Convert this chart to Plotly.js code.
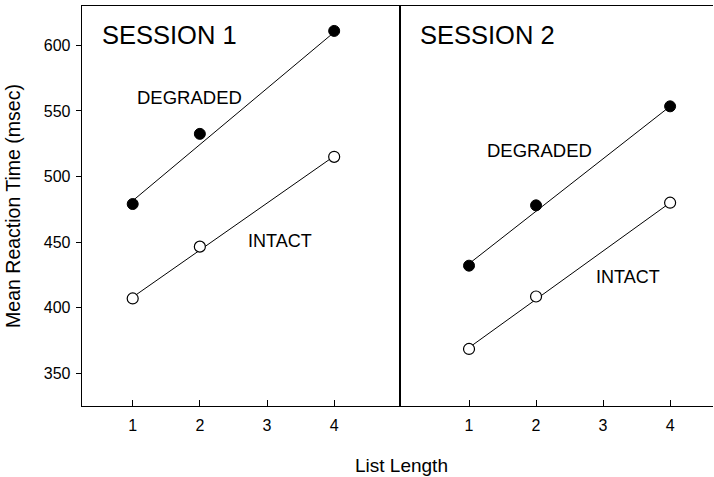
<!DOCTYPE html>
<html>
<head>
<meta charset="utf-8">
<script src="https://cdn.plot.ly/plotly-3.0.1.min.js"></script>
<style>html,body{margin:0;padding:0;background:#fff;}#chart{width:714px;height:477px;}</style>
</head>
<body>
<div id="chart"></div>
<script>
// Observed means (markers)
const listLength = [1, 2, 4];
const session1Degraded = [479, 532.5, 611];
const session1Intact = [407, 446.5, 515];
const session2Degraded = [432, 478, 553.5];
const session2Intact = [368.5, 408.5, 480];
// Fitted straight lines as drawn in the figure (read at list lengths 1 and 4)
const fitLength = [1, 4];
const session1DegradedFit = [481.5, 610];
const session1IntactFit = [408, 515.5];
const session2DegradedFit = [433.5, 553.5];
const session2IntactFit = [369.5, 480];
// Axis ticks
const tickValues = [1, 2, 3, 4];
const tickLabels = ["1", "2", "3", "4"];
const yTicks = [350, 400, 450, 500, 550, 600];

const FONT = "Liberation Sans, Arial, sans-serif";
const lineStyle = {color: "#000", width: 1};
function filled(){ return {symbol: "circle", size: 11, color: "#000", line: {color: "#000", width: 1}}; }
function openMarker(){ return {symbol: "circle", size: 11, color: "#fff", line: {color: "#000", width: 1.2}}; }

function fit(y, xa, ya){ return {x: fitLength, y: y, xaxis: xa, yaxis: ya, mode: "lines", line: lineStyle, hoverinfo: "skip"}; }
function pts(y, xa, ya, m){ return {x: listLength, y: y, xaxis: xa, yaxis: ya, mode: "markers", marker: m}; }

const traces = [
  fit(session1DegradedFit, "x", "y"),
  fit(session1IntactFit, "x", "y"),
  fit(session2DegradedFit, "x2", "y2"),
  fit(session2IntactFit, "x2", "y2"),
  pts(session1Degraded, "x", "y", filled()),
  pts(session1Intact, "x", "y", openMarker()),
  pts(session2Degraded, "x2", "y2", filled()),
  pts(session2Intact, "x2", "y2", openMarker())
];

const xCommon = {
  tickmode: "array", tickvals: tickValues, ticktext: tickLabels,
  showline: true, mirror: true, linecolor: "#000", linewidth: 1.3,
  ticks: "inside", ticklen: 6, tickcolor: "#000", tickwidth: 1,
  showgrid: false, zeroline: false,
  tickfont: {family: FONT, size: 16, color: "#000"},
  ticklabelstandoff: 4
};

const layout = {
  width: 714, height: 477,
  margin: {l: 82, r: 1, t: 6, b: 71},
  paper_bgcolor: "#fff", plot_bgcolor: "#fff",
  showlegend: false,
  font: {family: FONT, color: "#000"},
  xaxis: Object.assign({}, xCommon, {domain: [0, 0.505], range: [0.245, 4.99], anchor: "y"}),
  xaxis2: Object.assign({}, xCommon, {domain: [0.505, 1], range: [-0.02, 4.64], anchor: "y2"}),
  yaxis: {
    range: [325, 630], tickmode: "array", tickvals: yTicks,
    showline: true, linecolor: "#000", linewidth: 1.3,
    ticks: "outside", ticklen: 5, tickcolor: "#000",
    showgrid: false, zeroline: false,
    tickfont: {family: FONT, size: 16, color: "#000"},
    ticklabelstandoff: 2,
    title: {text: "Mean Reaction Time (msec)", font: {family: FONT, size: 19.5, color: "#000"}, standoff: 18},
    anchor: "x"
  },
  yaxis2: {
    matches: "y", range: [325, 630], anchor: "x2",
    showline: true, linecolor: "#000", linewidth: 1.3,
    ticks: "", showticklabels: false, showgrid: false, zeroline: false
  },
  annotations: [
    {xref: "x", yref: "y", x: 0.513, y: 608, text: "SESSION 1", showarrow: false, xanchor: "left", yanchor: "middle", font: {family: FONT, size: 25.5, color: "#000"}},
    {xref: "x", yref: "y", x: 1.845, y: 560.5, text: "DEGRADED", showarrow: false, xanchor: "center", yanchor: "middle", font: {family: FONT, size: 18.5, color: "#000"}},
    {xref: "x", yref: "y", x: 3.2, y: 451, text: "INTACT", showarrow: false, xanchor: "center", yanchor: "middle", font: {family: FONT, size: 18, color: "#000"}},
    {xref: "x2", yref: "y2", x: 0.24, y: 608, text: "SESSION 2", showarrow: false, xanchor: "left", yanchor: "middle", font: {family: FONT, size: 25.5, color: "#000"}},
    {xref: "x2", yref: "y2", x: 2.045, y: 519.5, text: "DEGRADED", showarrow: false, xanchor: "center", yanchor: "middle", font: {family: FONT, size: 18.5, color: "#000"}},
    {xref: "x2", yref: "y2", x: 3.37, y: 423, text: "INTACT", showarrow: false, xanchor: "center", yanchor: "middle", font: {family: FONT, size: 18, color: "#000"}},
    {xref: "paper", yref: "paper", x: 0.507, y: -0.15, text: "List Length", showarrow: false, xanchor: "center", yanchor: "middle", font: {family: FONT, size: 19, color: "#000"}}
  ]
};

Plotly.newPlot("chart", traces, layout, {staticPlot: true, displayModeBar: false});
</script>
</body>
</html>
